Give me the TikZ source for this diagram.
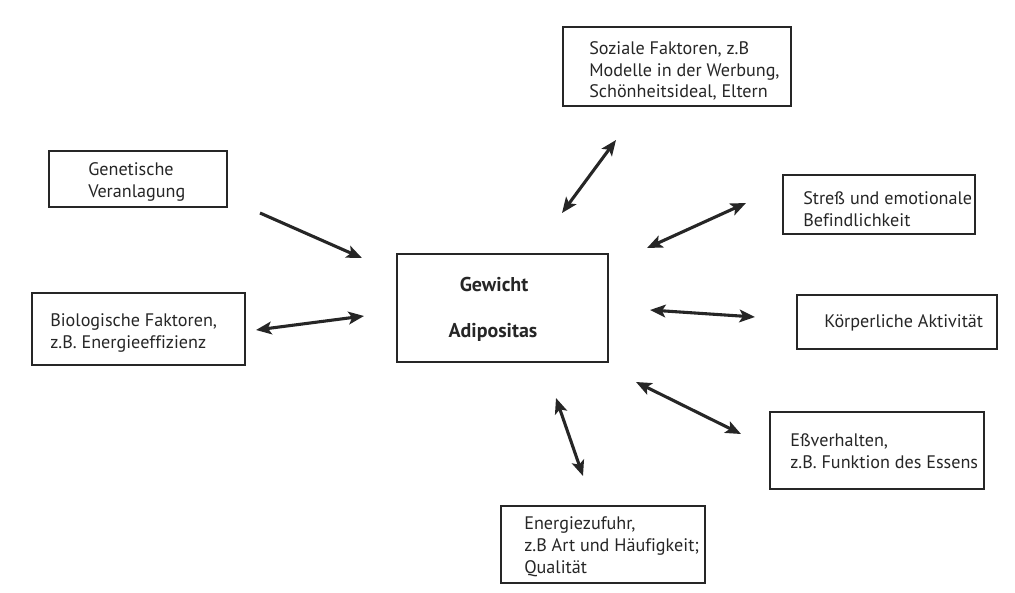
\documentclass[tikz,border=0pt]{standalone}
\usepackage{fontspec}
\setmainfont{PT Sans}[Ligatures=NoCommon]
\usetikzlibrary{arrows.meta}

\begin{document}
\begin{tikzpicture}[x=0.025cm, y=-0.025cm,
  box/.style={draw=black!85, line width=1pt, inner sep=0pt},
  txt/.style={anchor=west, align=left, font=\fontsize{12.9}{15.5}\selectfont, text=black!85, inner sep=0pt},
  bold/.style={font=\fontsize{14.2}{16}\selectfont\bfseries, text=black!85, inner sep=0pt},
  link/.style={black!85, line width=2.2pt, {Stealth[length=11pt,width=9pt,inset=2.5pt]}-{Stealth[length=11pt,width=9pt,inset=2.5pt]}},
  onelink/.style={black!85, line width=2.2pt, -{Stealth[length=11pt,width=9pt,inset=2.5pt]}}]
\useasboundingbox (0,0) rectangle (1015,593);
% Boxes
\node[box, minimum width=4.45cm, minimum height=1.4cm] (gen) at (138,179) {};
\node[box, minimum width=5.325cm, minimum height=1.8cm] (bio) at (138.5,329) {};
\node[box, minimum width=5.275cm, minimum height=2.7cm] (mid) at (502.5,308) {};
\node[box, minimum width=5.7cm, minimum height=1.975cm] (soz) at (677,66.5) {};
\node[box, minimum width=4.8cm, minimum height=1.475cm] (str) at (879,204.5) {};
\node[box, minimum width=5cm, minimum height=1.35cm] (koe) at (897,322) {};
\node[box, minimum width=5.35cm, minimum height=1.925cm] (ess) at (877,450.5) {};
\node[box, minimum width=5.1cm, minimum height=1.925cm] (ene) at (603,544.5) {};
% Texts
\node[txt] (gen-t) at (88,182) {Genetische\\Veranlagung};
\node[txt] (bio-t) at (50,333) {Biologische Faktoren,\\z.B. Energieeffizienz};
\node[bold] (mid-a) at (494,285) {Gewicht};
\node[bold] (mid-b) at (493,332) {Adipositas};
\node[txt] (soz-t) at (589,71) {Soziale Faktoren, z.B\\Modelle in der Werbung,\\Schönheitsideal, Eltern};
\node[txt] (str-t) at (803,209) {Streß und emotionale\\Befindlichkeit};
\node[txt] (koe-t) at (824,323) {Körperliche Aktivität};
\node[txt] (ess-t) at (790,451) {Eßverhalten,\\z.B. Funktion des Essens};
\node[txt] (ene-t) at (524,547) {Energiezufuhr,\\z.B Art und Häufigkeit;\\Qualität};
% Arrow ends
\coordinate (gen-a) at (260,213);  \coordinate (gen-b) at (362,258);
\coordinate (bio-a) at (256,330);  \coordinate (bio-b) at (364,316);
\coordinate (soz-a) at (562,213);  \coordinate (soz-b) at (616,140);
\coordinate (str-a) at (647,248);  \coordinate (str-b) at (746,203);
\coordinate (koe-a) at (650,310);  \coordinate (koe-b) at (755,317);
\coordinate (ess-a) at (636,382);  \coordinate (ess-b) at (741,434);
\coordinate (ene-a) at (556,398);  \coordinate (ene-b) at (583,476);
% Arrows
\draw[onelink] (gen-a) -- (gen-b);
\draw[link] (bio-a) -- (bio-b);
\draw[link] (soz-a) -- (soz-b);
\draw[link] (str-a) -- (str-b);
\draw[link] (koe-a) -- (koe-b);
\draw[link] (ess-a) -- (ess-b);
\draw[link] (ene-a) -- (ene-b);
\end{tikzpicture}
\end{document}
